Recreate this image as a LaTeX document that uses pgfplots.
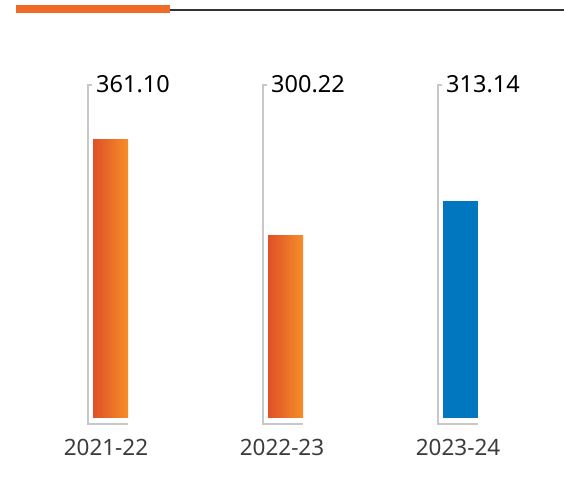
\documentclass[border=0pt]{standalone}
\usepackage{pgfplots}
\pgfplotsset{compat=1.18}
\usepackage{fontspec}
\setmainfont{Noto Sans}
\definecolor{orA}{RGB}{224,80,40}
\definecolor{orB}{RGB}{246,142,40}
\definecolor{barblue}{RGB}{0,119,190}
\definecolor{topor}{RGB}{240,106,40}
\definecolor{brk}{RGB}{200,200,200}
\definecolor{lbl}{RGB}{60,60,60}
\begin{document}
\begin{tikzpicture}
\useasboundingbox (0,0) rectangle (564pt,489pt);
\begin{axis}[
  anchor=origin, at={(0,71pt)},
  scale only axis, width=564pt, height=489pt,
  xmin=0, xmax=564, ymin=-71, ymax=418,
  axis lines=none, ticks=none, clip=false,
]
% top decoration
\addplot[draw=none, fill=topor, area legend] coordinates {(16,405) (170,405) (170,413) (16,413)} -- cycle;
\addplot[color=black!80, line width=1.2pt] coordinates {(170,408) (564,408)};
% brackets
\addplot[brk, line width=1.3pt] coordinates {(92,333) (88,333) (88,-6) (128,-6)};
\addplot[brk, line width=1.3pt] coordinates {(267,333) (263,333) (263,-6) (303,-6)};
\addplot[brk, line width=1.3pt] coordinates {(442,333) (438,333) (438,-6) (478,-6)};
% bars (heights as drawn, in px above baseline)
\addplot[ybar, bar width=35pt, bar shift=0pt, draw=none, left color=orA, right color=orB] coordinates {(110.5,278)};
\addplot[ybar, bar width=35pt, bar shift=0pt, draw=none, left color=orA, right color=orB] coordinates {(285.5,182)};
\addplot[ybar, bar width=35pt, bar shift=0pt, draw=none, fill=barblue] coordinates {(460.5,217)};
% value labels
\node[anchor=west, font=\fontsize{23.5}{26}\selectfont, inner sep=0pt] at (axis cs:96,334) {361.10};
\node[anchor=west, font=\fontsize{23.5}{26}\selectfont, inner sep=0pt] at (axis cs:271,334) {300.22};
\node[anchor=west, font=\fontsize{23.5}{26}\selectfont, inner sep=0pt] at (axis cs:446,334) {313.14};
% category labels
\node[font=\fontsize{22.5}{26}\selectfont, text=lbl, inner sep=0pt] at (axis cs:106,-29) {2021-22};
\node[font=\fontsize{22.5}{26}\selectfont, text=lbl, inner sep=0pt] at (axis cs:282,-29) {2022-23};
\node[font=\fontsize{22.5}{26}\selectfont, text=lbl, inner sep=0pt] at (axis cs:458,-29) {2023-24};
\end{axis}
\end{tikzpicture}
\end{document}
